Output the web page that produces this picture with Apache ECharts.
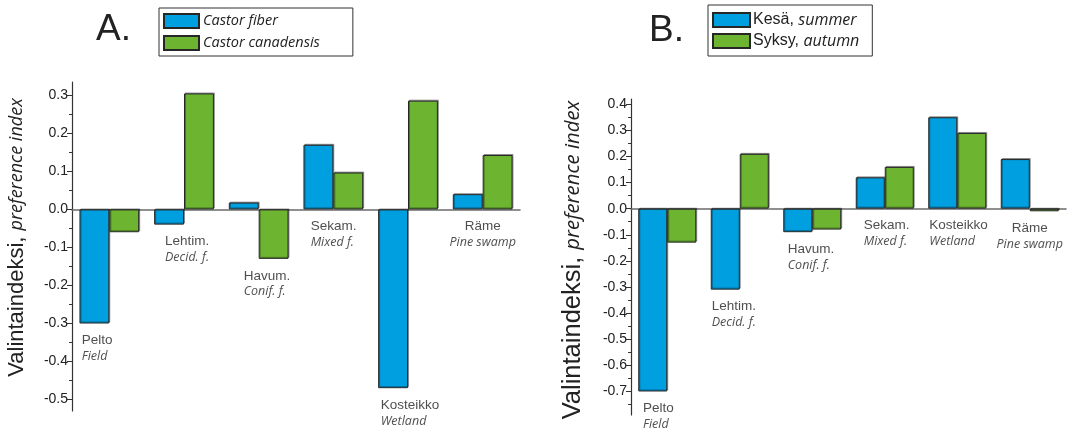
<!DOCTYPE html>
<html>
<head>
<meta charset="utf-8">
<script src="https://cdn.jsdelivr.net/npm/echarts@6/dist/echarts.min.js"></script>
<style>
  html, body { margin: 0; padding: 0; background: #fff; }
  #chart { width: 1067px; height: 434px; }
</style>
</head>
<body>
<div id="chart"></div>
<script>
// Habitat categories (Finnish name + English gloss)
const habitatsFi = ['Pelto', 'Lehtim.', 'Havum.', 'Sekam.', 'Kosteikko', 'Räme'];
const habitatsEn = ['Field', 'Decid. f.', 'Conif. f.', 'Mixed f.', 'Wetland', 'Pine swamp'];

// Panel A: preference index by species
const speciesNames = ['Castor fiber', 'Castor canadensis'];
const castorFiber = [-0.30, -0.04, 0.018, 0.17, -0.47, 0.04];
const castorCanadensis = [-0.06, 0.305, -0.13, 0.097, 0.286, 0.143];

// Panel B: preference index by season
const seasonNames = ['Kesä, summer', 'Syksy, autumn'];
const summer = [-0.70, -0.31, -0.09, 0.12, 0.35, 0.19];
const autumn = [-0.13, 0.21, -0.08, 0.16, 0.29, -0.01];

// Axis tick labels
const ticksA = [-0.5, -0.4, -0.3, -0.2, -0.1, 0.0, 0.1, 0.2, 0.3];
const ticksB = [-0.7, -0.6, -0.5, -0.4, -0.3, -0.2, -0.1, 0.0, 0.1, 0.2, 0.3, 0.4];
const axisTitleFi = 'Valintaindeksi, ';
const axisTitleEn = 'preference index';

// ---- layout & style ----
const BLUE = '#009fe0';
const GREEN = '#6db531';
const INK = '#222222';
const rangeA = { min: -0.53, max: 0.335 };
const rangeB = { min: -0.79, max: 0.42 };
// horizontal shift (px) of each habitat label relative to the category centre
const labelShiftA = [-27.6, -19, -15, -22.7, -27.3, null];
const labelShiftB = [-24.3, -28, -24.5, -21, -28, null];

function minorTicks(major, range) {
  const out = [];
  major.forEach(t => {
    [t - 0.05, t + 0.05].forEach(v => {
      const r = Math.round(v * 1000) / 1000;
      if (r >= range.min && r <= range.max && out.indexOf(r) < 0) out.push(r);
    });
  });
  return out;
}

function majorAxis(gridIndex, ticks, range, title, namePad) {
  return {
    type: 'value', gridIndex, position: 'left',
    min: range.min, max: range.max,
    axisLine: { show: true, lineStyle: { color: '#333', width: 1.2 } },
    axisTick: { show: true, length: 5, customValues: ticks, lineStyle: { color: '#333', width: 1 } },
    axisLabel: {
      show: true, customValues: ticks, margin: 4,
      fontFamily: 'Liberation Sans, Arial, sans-serif', fontSize: 14, color: INK,
      formatter: v => v.toFixed(1)
    },
    splitLine: { show: false },
    name: '{r|' + title[0] + '}{i|' + title[1] + '}',
    nameLocation: 'middle', nameRotate: 90, nameGap: title[2],
    nameTextStyle: {
      padding: namePad,
      rich: {
        r: { fontFamily: 'Liberation Sans, Arial, sans-serif', fontSize: title[3], color: INK },
        i: { fontFamily: 'Open Sans, sans-serif', fontStyle: 'italic', fontSize: title[4], color: INK }
      }
    }
  };
}

function minorAxis(gridIndex, ticks, range) {
  return {
    type: 'value', gridIndex, position: 'left',
    min: range.min, max: range.max,
    axisLine: { show: false },
    axisTick: { show: true, length: 3, customValues: minorTicks(ticks, range), lineStyle: { color: '#333', width: 1 } },
    axisLabel: { show: false },
    splitLine: { show: false }
  };
}

function catAxis(gridIndex, zeroAxis) {
  return {
    type: 'category', gridIndex, data: habitatsFi,
    axisLine: { show: true, onZero: true, onZeroAxisIndex: zeroAxis, lineStyle: { color: '#6b6b6b', width: 1.6 } },
    axisTick: { show: false },
    axisLabel: { show: false },
    splitLine: { show: false }
  };
}

const barStyle = color => ({
  color, borderColor: '#262626', borderWidth: 1,
  shadowColor: 'rgba(0,0,0,0.35)', shadowOffsetX: 1, shadowOffsetY: -1, shadowBlur: 0
});

function barSeries(name, data, color, axisIndex, yIndex) {
  return {
    type: 'bar', name, data, xAxisIndex: axisIndex, yAxisIndex: yIndex,
    barGap: '0%', barCategoryGap: '20%',
    itemStyle: barStyle(color), silent: true, z: 3
  };
}

// habitat names hang just below the lowest point of each category
function habitatLabels(a, b, shifts, axisIndex, yIndex) {
  return {
    type: 'scatter', xAxisIndex: axisIndex, yAxisIndex: yIndex,
    symbolSize: 0, silent: true, z: 5,
    data: habitatsFi.map((fi, i) => {
      const shift = shifts[i];
      return {
        value: Math.min(0, a[i], b[i]),
        label: {
          show: true, position: 'bottom', distance: 9,
          align: shift === null ? 'center' : 'left',
          offset: [shift === null ? 0 : shift, 0],
          formatter: '{r|' + fi + '}\n{i|' + habitatsEn[i] + '}',
          rich: {
            r: { fontFamily: 'Liberation Sans, Arial, sans-serif', fontSize: 13.5, lineHeight: 16, color: INK,
                 align: shift === null ? 'center' : 'left' },
            i: { fontFamily: 'Open Sans, sans-serif', fontStyle: 'italic', fontSize: 12.5, lineHeight: 16, color: INK,
                 align: shift === null ? 'center' : 'left' }
          }
        }
      };
    })
  };
}

function legendRich(size) {
  return {
    r: { fontFamily: 'Liberation Sans, Arial, sans-serif', fontSize: size, color: INK },
    i: { fontFamily: 'Open Sans, sans-serif', fontStyle: 'italic', fontSize: size, color: INK }
  };
}

const option = {
  animation: false,
  backgroundColor: '#ffffff',
  grid: [
    { left: 72, top: 82, width: 448, height: 329 },
    { left: 631, top: 99, width: 435, height: 316 }
  ],
  xAxis: [catAxis(0, 0), catAxis(1, 2)],
  yAxis: [
    majorAxis(0, ticksA, rangeA, [axisTitleFi, axisTitleEn, 44, 22, 18], [0, 0, 0, 18]),
    minorAxis(0, ticksA, rangeA),
    majorAxis(1, ticksB, rangeB, [axisTitleFi, axisTitleEn, 45, 25.5, 20.3], [0, 6, 0, 0]),
    minorAxis(1, ticksB, rangeB)
  ],
  legend: [
    {
      data: speciesNames, orient: 'vertical', left: 159, top: 8,
      itemWidth: 35, itemHeight: 14, itemGap: 6,
      borderColor: '#333', borderWidth: 1, padding: [5, 33, 5, 4],
      icon: 'rect', selectedMode: false,
      formatter: n => '{i|' + n + '}',
      textStyle: { rich: legendRich(14.5), padding: [0, 0, 0, -1] }
    },
    {
      data: seasonNames, orient: 'vertical', left: 708, top: 5,
      itemWidth: 37, itemHeight: 14, itemGap: 5,
      borderColor: '#333', borderWidth: 1, padding: [7, 13, 7, 4],
      icon: 'rect', selectedMode: false,
      formatter: n => { const p = n.split(', '); return '{r|' + p[0] + ', }{i|' + p[1] + '}'; },
      textStyle: { rich: legendRich(16), padding: [0, 0, 0, -2] }
    }
  ],
  graphic: [
    { type: 'text', left: 96, top: 11, style: { text: 'A.', font: '37px "Liberation Sans", Arial, sans-serif', fill: INK } },
    { type: 'text', left: 649, top: 12, style: { text: 'B.', font: '37px "Liberation Sans", Arial, sans-serif', fill: INK } }
  ],
  series: [
    barSeries(speciesNames[0], castorFiber, BLUE, 0, 0),
    barSeries(speciesNames[1], castorCanadensis, GREEN, 0, 0),
    habitatLabels(castorFiber, castorCanadensis, labelShiftA, 0, 0),
    barSeries(seasonNames[0], summer, BLUE, 1, 2),
    barSeries(seasonNames[1], autumn, GREEN, 1, 2),
    habitatLabels(summer, autumn, labelShiftB, 1, 2)
  ]
};

const chart = echarts.init(document.getElementById('chart'), null, { renderer: 'canvas' });
chart.setOption(option);
</script>
</body>
</html>
